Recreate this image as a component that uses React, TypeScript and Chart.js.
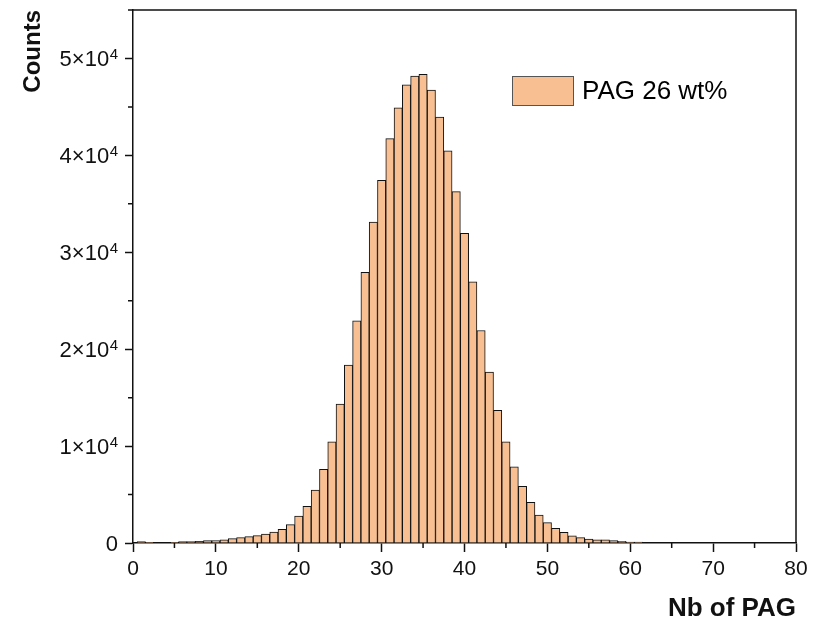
import React, { useEffect, useRef } from "react";
import { Chart, registerables } from "chart.js";

Chart.register(...registerables);

const binCenters: number[] = [
  0, 1, 2, 3, 4, 5, 6, 7, 8, 9, 10, 11, 12, 13, 14, 15, 16, 17, 18, 19, 20,
  21, 22, 23, 24, 25, 26, 27, 28, 29, 30, 31, 32, 33, 34, 35, 36, 37, 38, 39, 40,
  41, 42, 43, 44, 45, 46, 47, 48, 49, 50, 51, 52, 53, 54, 55, 56, 57, 58, 59, 60, 61,
];

const counts: number[] = [
  0, 150, 80, 0, 0, 70, 150, 150, 160, 240, 250, 340, 450, 550, 650, 760, 930, 1130, 1400, 1900, 2780,
  3780, 5460, 7600, 10450, 14330, 18350, 22920, 27940, 33120, 37420, 41720, 44910, 47290, 48180, 48350,
  46730, 43950, 40480, 36260, 31960, 26940, 21930, 17630, 13680, 10440, 7870, 5850, 4190, 2890, 2100,
  1510, 1100, 750, 550, 410, 340, 340, 240, 170, 100, 100,
];

const seriesLabel = "PAG 26 wt%";
const xTicks: number[] = [0, 10, 20, 30, 40, 50, 60, 70, 80];
const xMinorTicks: number[] = [5, 15, 25, 35, 45, 55, 65, 75];
const yTicks: number[] = [0, 10000, 20000, 30000, 40000, 50000];
const yMantissas: string[] = ["0", "1×10", "2×10", "3×10", "4×10", "5×10"];
const yExponent = "4";
const yMinorTicks: number[] = [5000, 15000, 25000, 35000, 45000, 55000];
const xTitle = "Nb of PAG";
const yTitle = "Counts";

const FONT = "'Liberation Sans', Arial, sans-serif";
const FILL = "#F8C092";

const framePlugin = {
  id: "frameAndMinor",
  afterDraw(chart: any) {
    const { ctx, chartArea } = chart;
    const { left, right, top, bottom } = chartArea;
    ctx.save();
    ctx.strokeStyle = "#111";
    ctx.lineWidth = 1.5;
    ctx.beginPath();
    ctx.moveTo(left, top);
    ctx.lineTo(right, top);
    ctx.lineTo(right, bottom);
    ctx.stroke();
    // minor ticks
    const xs = chart.scales.x;
    const ys = chart.scales.y;
    ctx.beginPath();
    for (const v of xMinorTicks) {
      const px = xs.getPixelForValue(v);
      ctx.moveTo(px, bottom);
      ctx.lineTo(px, bottom + 5);
    }
    for (const v of yMinorTicks) {
      const py = ys.getPixelForValue(v);
      ctx.moveTo(left, py);
      ctx.lineTo(left - 5, py);
    }
    ctx.stroke();
    // y tick labels with superscript exponent
    ctx.fillStyle = "#111";
    ctx.textAlign = "right";
    ctx.textBaseline = "alphabetic";
    const xr = 118;
    yTicks.forEach((v, i) => {
      const py = ys.getPixelForValue(v);
      if (v === 0) {
        ctx.font = `22px ${FONT}`;
        ctx.fillText(yMantissas[i], xr, py + 8);
        return;
      }
      ctx.font = `15px ${FONT}`;
      const sw = ctx.measureText(yExponent).width;
      ctx.fillText(yExponent, xr, py + 1);
      ctx.font = `22px ${FONT}`;
      ctx.fillText(yMantissas[i], xr - sw - 0.5, py + 8);
    });
    // legend
    const bx = 512, by = 76, bw = 61, bh = 29;
    ctx.fillStyle = FILL;
    ctx.fillRect(bx, by, bw, bh);
    ctx.strokeStyle = "#555";
    ctx.lineWidth = 1;
    ctx.strokeRect(bx + 0.5, by + 0.5, bw, bh);
    ctx.fillStyle = "#000";
    ctx.font = `26px ${FONT}`;
    ctx.textBaseline = "middle";
    ctx.textAlign = "left";
    ctx.fillText(seriesLabel, 582, by + bh / 2 + 1);
    ctx.restore();
  },
};

export default function App() {
  const ref = useRef<HTMLCanvasElement | null>(null);

  useEffect(() => {
    if (!ref.current) return;
    Chart.defaults.font.family = FONT;
    const chart = new Chart(ref.current, {
      type: "bar",
      data: {
        datasets: [
          {
            label: seriesLabel,
            data: binCenters.map((x, i) => ({ x, y: counts[i] })),
            backgroundColor: FILL,
            borderColor: "#111",
            borderWidth: 1,
            barPercentage: 1,
            categoryPercentage: 1,
          },
        ],
      },
      options: {
        responsive: false,
        animation: false,
        layout: { padding: { top: 10, right: 24, left: 0, bottom: 0 } },
        plugins: { legend: { display: false }, tooltip: { enabled: false } },
        scales: {
          x: {
            type: "linear",
            min: 0,
            max: 80,
            offset: false,
            afterBuildTicks: (s: any) => {
              s.ticks = xTicks.map((v) => ({ value: v }));
            },
            afterFit: (s: any) => {
              s.height = 81;
              s.paddingLeft = 0;
              s.paddingRight = 0;
            },
            grid: {
              display: true,
              drawOnChartArea: false,
              offset: false,
              tickLength: 9,
              tickColor: "#111",
              tickWidth: 1.5,
            },
            border: { display: true, color: "#111", width: 1.5 },
            ticks: {
              autoSkip: false,
              maxRotation: 0,
              padding: 5,
              color: "#111",
              font: { size: 21, family: FONT },
              callback: (v: any) => String(v),
            },
            title: {
              display: true,
              text: xTitle,
              align: "end",
              color: "#111",
              font: { size: 26, weight: "bold", family: FONT },
              padding: { top: 0, bottom: 0 },
            },
          },
          y: {
            type: "linear",
            min: 0,
            max: 55000,
            afterBuildTicks: (s: any) => {
              s.ticks = yTicks.map((v) => ({ value: v }));
            },
            afterFit: (s: any) => {
              s.width = 133;
              s.paddingTop = 0;
              s.paddingBottom = 0;
            },
            grid: {
              display: true,
              drawOnChartArea: false,
              tickLength: 8,
              tickColor: "#111",
              tickWidth: 1.5,
            },
            border: { display: true, color: "#111", width: 1.5 },
            ticks: {
              display: false,
            },
            title: {
              display: true,
              text: yTitle,
              align: "end",
              color: "#111",
              font: { size: 24, weight: "bold", family: FONT },
              padding: { top: 19, bottom: 0 },
            },
          },
        },
      },
      plugins: [framePlugin],
    });
    return () => chart.destroy();
  }, []);

  return (
    <div style={{ position: "fixed", left: 0, top: 0, width: 820, height: 624, background: "#fff" }}>
      <canvas ref={ref} width={820} height={624} style={{ width: 820, height: 624 }} />
    </div>
  );
}
